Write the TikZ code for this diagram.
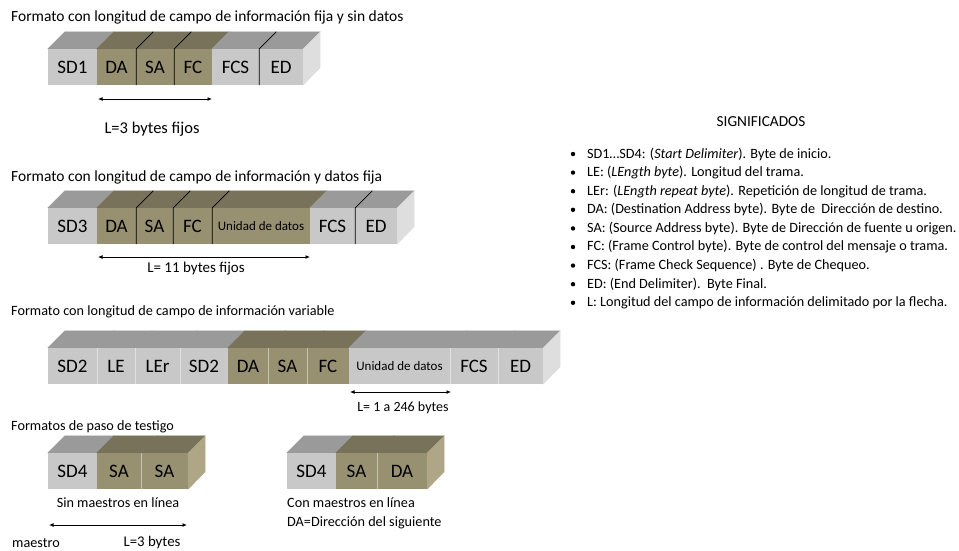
\documentclass[tikz,border=0pt]{standalone}
\usepackage{fontspec}
\setmainfont{Carlito}
\usetikzlibrary{arrows.meta}

\definecolor{greyfront}{HTML}{C8C8C8}
\definecolor{greytop}{HTML}{9A9A9A}
\definecolor{greyside}{HTML}{DEDEDE}
\definecolor{olivefront}{HTML}{979172}
\definecolor{olivetop}{HTML}{78725A}
\definecolor{oliveside}{HTML}{AEA686}

\newcommand\smallcellfont{\fontsize{13}{15}\selectfont}
\newcommand\fsz[1]{\fontsize{#1}{#1}\selectfont}

\tikzset{
  cellbox/.style={inner sep=0pt, minimum height=36pt, font=\fsz{19}},
  sepline/.style={draw=black, line width=0.7pt},
  faintsep/.style={draw=white, draw opacity=0.45, line width=0.8pt},
  title/.style={anchor=west, inner sep=0pt, font=\fsz{15.5}},
  caption/.style={inner sep=0pt, font=\fsz{14.2}},
  lefttext/.style={anchor=west, inner sep=0pt, font=\fsz{14.2}},
  legend/.style={anchor=west, inner sep=0pt, font=\fsz{14.2}},
  span/.style={{Latex[length=4.5pt,width=4pt]}-{Latex[length=4.5pt,width=4pt]}, line width=0.9pt},
  bulletdot/.style={circle, fill=black, inner sep=0pt, minimum size=4.4pt}
}

% one field of a frame: front face plus its top face
% #1 name, #2 left x, #3 right x, #4 top y, #5 colour kind, #6 label
\newcommand\fcell[6]{%
  \node[cellbox, fill=#5front, minimum width={#3pt-#2pt}] (#1) at ({(#2+#3)/2},{#4+18}) {#6};
  \filldraw[fill=#5top, draw=#5top, line width=0.3pt] (#1.north west) -- (#1.north east) -- ++(17,-17)
    -- ([shift={(17,-17)}]#1.north west) -- cycle;
}
% right-hand side face of a frame
\newcommand\fside[2]{%
  \filldraw[fill=#2side, draw=#2side, line width=0.3pt] (#1.north east) -- ++(17,-17) -- ++(0,36)
    -- (#1.south east) -- cycle;
}
% black divider on the right edge of a field, running over the top face
\newcommand\fsep[1]{\draw[sepline] (#1.south east) -- (#1.north east) -- ++(17,-17);}
% pale divider on the front face only
\newcommand\fthin[1]{\draw[faintsep] (#1.south east) -- (#1.north east);}

\begin{document}
\begin{tikzpicture}[x=1pt, y=-1pt]
\useasboundingbox (0,0) rectangle (959,550);

% ---------- frame with fixed length, no data ----------
\node[title] (t1) at (11,17) {Formato con longitud de campo de información fija y sin datos};
\fcell{aSD}{48}{97}{49}{grey}{SD1}
\fcell{aDA}{97}{136}{49}{olive}{DA}
\fcell{aSA}{136}{174}{49}{olive}{SA}
\fcell{aFC}{174}{212}{49}{olive}{FC}
\fcell{aFCS}{212}{259}{49}{grey}{FCS}
\fcell{aED}{259}{303}{49}{grey}{ED}
\fside{aED}{grey}
\fsep{aDA}\fsep{aSA}\fsep{aFCS}
\coordinate (aL1) at (98,99);
\coordinate (aL2) at (212,99);
\draw[span] (aL1) -- (aL2);
\node[caption, font=\fsz{16.5}] (aLt) at (152,129) {L=3 bytes fijos};

% ---------- frame with fixed length and data ----------
\node[title] (t2) at (11,177) {Formato con longitud de campo de información y datos fija};
\fcell{bSD}{48}{97}{208}{grey}{SD3}
\fcell{bDA}{97}{136}{208}{olive}{DA}
\fcell{bSA}{136}{173}{208}{olive}{SA}
\fcell{bFC}{173}{212}{208}{olive}{FC}
\fcell{bUD}{212}{310}{208}{olive}{\smallcellfont Unidad de datos}
\fcell{bFCS}{310}{355}{208}{grey}{FCS}
\fcell{bED}{355}{397}{208}{grey}{ED}
\fside{bED}{grey}
\fsep{bDA}\fsep{bSA}\fsep{bFC}\fsep{bFCS}
\coordinate (bL1) at (98,257);
\coordinate (bL2) at (310,257);
\draw[span] (bL1) -- (bL2);
\node[caption, font=\fsz{15}] (bLt) at (196,269) {L= 11 bytes fijos};

% ---------- frame with variable length ----------
\node[title, font=\fsz{14.2}] (t3) at (11,312) {Formato con longitud de campo de información variable};
\fcell{cSD}{48}{97}{348}{grey}{SD2}
\fcell{cLE}{97}{135}{348}{grey}{LE}
\fcell{cLEr}{135}{180}{348}{grey}{LEr}
\fcell{cSDb}{180}{228}{348}{grey}{SD2}
\fcell{cDA}{228}{268}{348}{olive}{DA}
\fcell{cSA}{268}{307}{348}{olive}{SA}
\fcell{cFC}{307}{349}{348}{olive}{FC}
\fcell{cUD}{349}{450}{348}{grey}{\smallcellfont Unidad de datos}
\fcell{cFCS}{450}{498}{348}{grey}{FCS}
\fcell{cED}{498}{543}{348}{grey}{ED}
\fside{cED}{grey}
\fthin{cSD}\fthin{cLE}\fthin{cLEr}\fthin{cDA}\fthin{cSA}\fthin{cUD}\fthin{cFCS}
\coordinate (cL1) at (350,392);
\coordinate (cL2) at (451,392);
\draw[span] (cL1) -- (cL2);
\node[caption, font=\fsz{14}] (cLt) at (403,408) {L= 1 a 246 bytes};

% ---------- token frames ----------
\node[title, font=\fsz{14.2}] (t4) at (11,427) {Formatos de paso de testigo};
\fcell{dSD}{48}{97}{453}{grey}{SD4}
\fcell{dSA}{97}{141}{453}{olive}{SA}
\fcell{dSAb}{141}{188}{453}{olive}{SA}
\fside{dSAb}{olive}
\fthin{dSA}
\node[caption] (dT) at (118,503) {Sin maestros en línea};
\coordinate (dL1) at (49,525);
\coordinate (dL2) at (187,525);
\draw[span] (dL1) -- (dL2);
\node[lefttext] (dM) at (12,543) {maestro};
\node[caption, font=\fsz{14.8}] (dLt) at (152,543) {L=3 bytes};

\fcell{eSD}{287}{336}{453}{grey}{SD4}
\fcell{eSA}{336}{377}{453}{olive}{SA}
\fcell{eDA}{377}{427}{453}{olive}{DA}
\fside{eDA}{olive}
\fthin{eSA}
\node[lefttext] (eT1) at (287,503) {Con maestros en línea};
\node[lefttext] (eT2) at (287,523) {DA=Dirección del siguiente};

% ---------- legend ----------
\node[caption, font=\fsz{15.3}] (sig) at (761,122) {SIGNIFICADOS};
\foreach \txt [count=\i] in {
  {SD1…SD4: (\textit{Start Delimiter}). Byte de inicio.},
  {LE: (\textit{LEngth byte}). Longitud del trama.},
  {LEr: (\textit{LEngth repeat byte}). Repetición de longitud de trama.},
  {DA: (Destination Address byte). Byte de\ \ Dirección de destino.},
  {SA: (Source Address byte). Byte de Dirección de fuente u origen.},
  {FC: (Frame Control byte). Byte de control del mensaje o trama.},
  {FCS: (Frame Check Sequence) . Byte de Chequeo.},
  {ED: (End Delimiter).\ \ Byte Final.},
  {L: Longitud del campo de información delimitado por la flecha.}}{
  \node[bulletdot] (b\i) at (573,{135.4+18.6*\i}) {};
  \node[legend] (l\i) at (587,{135.4+18.6*\i}) {\txt};
}
\end{tikzpicture}
\end{document}
